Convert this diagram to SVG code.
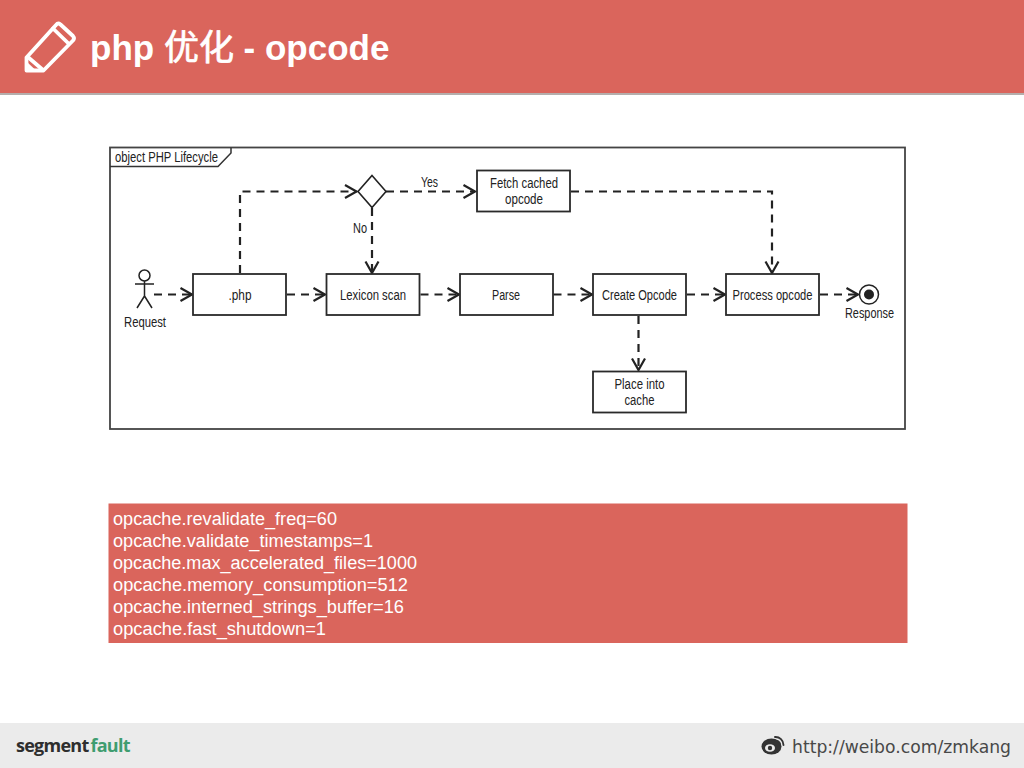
<svg xmlns="http://www.w3.org/2000/svg" width="1024" height="768" viewBox="0 0 1024 768">
<style>
.box{fill:#fff;stroke:#2a2a2a;stroke-width:1.8}
.t{font-family:"Liberation Sans",Arial,sans-serif;font-size:14px;fill:#222;text-anchor:middle}
.c{fill:none;stroke:#222;stroke-width:2.200;stroke-dasharray:8 6}
.cfg{font-family:"Liberation Sans",Arial,sans-serif;font-size:18px;fill:#fff}
.sf{font-family:"Open Sans","Noto Sans",sans-serif;font-size:18px;font-weight:700;letter-spacing:-0.750px}
</style>
<defs>
<marker id="arr" markerUnits="userSpaceOnUse" markerWidth="16" markerHeight="16" refX="13" refY="8" orient="auto" overflow="visible">
<path d="M1.500 1.500L13 8L1.500 14.500" fill="none" stroke="#222" stroke-width="2.200"/>
</marker>
</defs>
<rect width="1024" height="768" fill="#fff"/>
<g id="header">
<rect x="0" y="93" width="1024" height="2" fill="#b5aeac"/>
<rect width="1024" height="93" fill="#da655c"/>
<g fill="none" stroke="#fff" stroke-width="3.800" stroke-linejoin="round" stroke-linecap="round">
<path d="M26.500 70.500V57.500L56 25Q58 22.500 60.500 24.500L73 36Q75 38 73 40.500L43.500 70.500Z"/>
<path d="M29 58L43 70M53 28.500L68 43"/>
</g>
<path d="M27 70.500V62L36 70.500Z" fill="#fff"/>
<text x="90" y="60" font-family="'Liberation Sans','Noto Sans CJK SC',sans-serif" font-size="35" font-weight="700" fill="#fff">php <tspan font-weight="400" stroke="#fff" stroke-width="0.700">优化</tspan> - opcode</text>
</g>
<g id="frame">
<rect x="110" y="147.500" width="795" height="281.500" fill="#fff" stroke="#444" stroke-width="1.800"/>
<path d="M110 166.500H218L231 153V147.500" fill="none" stroke="#333" stroke-width="1.500"/>
<text class="t" x="115" y="161.500" style="text-anchor:start" textLength="103" lengthAdjust="spacingAndGlyphs">object PHP Lifecycle</text>
</g>
<g id="connectors">
<path class="c" d="M240 273V191.500H356.500" marker-end="url(#arr)"/>
<path class="c" d="M386 191.500H475" marker-end="url(#arr)"/>
<path class="c" d="M372 208V273" marker-end="url(#arr)"/>
<path class="c" d="M571 191.500H772V273" marker-end="url(#arr)"/>
<path class="c" d="M154 294.500H192" marker-end="url(#arr)"/>
<path class="c" d="M287 294.500H325" marker-end="url(#arr)"/>
<path class="c" d="M420.500 294.500H459" marker-end="url(#arr)"/>
<path class="c" d="M553.500 294.500H592" marker-end="url(#arr)"/>
<path class="c" d="M687 294.500H725" marker-end="url(#arr)"/>
<path class="c" d="M820 294.500H858" marker-end="url(#arr)"/>
<path class="c" d="M638.500 316V370" marker-end="url(#arr)"/>
</g>
<g id="actor">
<circle cx="144.500" cy="275.500" r="5.500" fill="#fff" stroke="#222" stroke-width="1.500"/>
<path fill="none" stroke="#222" stroke-width="1.500" d="M144.500 281V296M135 284H154M144.500 296L137 308M144.500 296L152 308"/>
<text class="t" x="145" y="327" textLength="42" lengthAdjust="spacingAndGlyphs">Request</text>
</g>
<g id="php"><rect class="box" x="193" y="274" width="93" height="41"/><text class="t" x="240" y="299.500" textLength="23" lengthAdjust="spacingAndGlyphs">.php</text></g>
<g id="lexicon"><rect class="box" x="326.500" y="274" width="93" height="41"/><text class="t" x="373" y="299.500" textLength="66" lengthAdjust="spacingAndGlyphs">Lexicon scan</text></g>
<g id="parse"><rect class="box" x="460" y="274" width="93" height="41"/><text class="t" x="506" y="299.500" textLength="28" lengthAdjust="spacingAndGlyphs">Parse</text></g>
<g id="create"><rect class="box" x="593" y="274" width="93" height="41"/><text class="t" x="639.500" y="299.500" textLength="75" lengthAdjust="spacingAndGlyphs">Create Opcode</text></g>
<g id="process"><rect class="box" x="726" y="274" width="93" height="41"/><text class="t" x="772.500" y="299.500" textLength="80" lengthAdjust="spacingAndGlyphs">Process opcode</text></g>
<g id="place"><rect class="box" x="593" y="371.500" width="93" height="41"/><text class="t" x="639.500" y="389" textLength="50" lengthAdjust="spacingAndGlyphs">Place into</text><text class="t" x="639.500" y="405" textLength="30" lengthAdjust="spacingAndGlyphs">cache</text></g>
<g id="fetch"><rect class="box" x="477" y="170.500" width="93" height="41"/><text class="t" x="524" y="188" textLength="68" lengthAdjust="spacingAndGlyphs">Fetch cached</text><text class="t" x="524" y="204" textLength="38" lengthAdjust="spacingAndGlyphs">opcode</text></g>
<g id="decision"><path d="M372 175.500L386 191.500L372 207.500L358 191.500Z" fill="#fff" stroke="#222" stroke-width="1.600"/></g>
<g id="response"><circle cx="869" cy="294.500" r="9.500" fill="#fff" stroke="#222" stroke-width="1.500"/><circle cx="869" cy="294.500" r="5" fill="#222"/><text class="t" x="869.500" y="318" textLength="49" lengthAdjust="spacingAndGlyphs">Response</text></g>
<g id="labels">
<text class="t" x="429.500" y="186.500" textLength="17" lengthAdjust="spacingAndGlyphs">Yes</text>
<text class="t" x="360" y="233" textLength="14" lengthAdjust="spacingAndGlyphs">No</text>
</g>
<g id="config">
<rect x="108.500" y="503.500" width="799" height="139.500" fill="#da655c"/>
<text class="cfg" x="113" y="525" textLength="224" lengthAdjust="spacingAndGlyphs">opcache.revalidate_freq=60</text>
<text class="cfg" x="113" y="547" textLength="260" lengthAdjust="spacingAndGlyphs">opcache.validate_timestamps=1</text>
<text class="cfg" x="113" y="569" textLength="304" lengthAdjust="spacingAndGlyphs">opcache.max_accelerated_files=1000</text>
<text class="cfg" x="113" y="591" textLength="295" lengthAdjust="spacingAndGlyphs">opcache.memory_consumption=512</text>
<text class="cfg" x="113" y="613" textLength="291" lengthAdjust="spacingAndGlyphs">opcache.interned_strings_buffer=16</text>
<text class="cfg" x="113" y="635" textLength="213" lengthAdjust="spacingAndGlyphs">opcache.fast_shutdown=1</text>
</g>
<g id="footer">
<rect y="723" width="1024" height="45" fill="#ebebeb"/>
<text class="sf" x="16" y="752" fill="#2e2e2e">segment</text>
<text class="sf" x="90.500" y="752" fill="#3f9d70">fault</text>
<g>
<ellipse cx="771.500" cy="746.500" rx="10" ry="8" fill="#333"/>
<ellipse cx="770" cy="748" rx="5" ry="3.800" fill="#ebebeb"/>
<circle cx="770" cy="748" r="2.200" fill="#333"/>
<path d="M775 737A8 8 0 0 1 783.500 745M775.500 741A3.800 3.800 0 0 1 780 744.500" fill="none" stroke="#333" stroke-width="1.900" stroke-linecap="round"/>
</g>
<text x="792" y="752.500" font-family="'DejaVu Sans',sans-serif" font-size="18" fill="#484848" textLength="219" lengthAdjust="spacingAndGlyphs">http://weibo.com/zmkang</text>
</g>
</svg>
